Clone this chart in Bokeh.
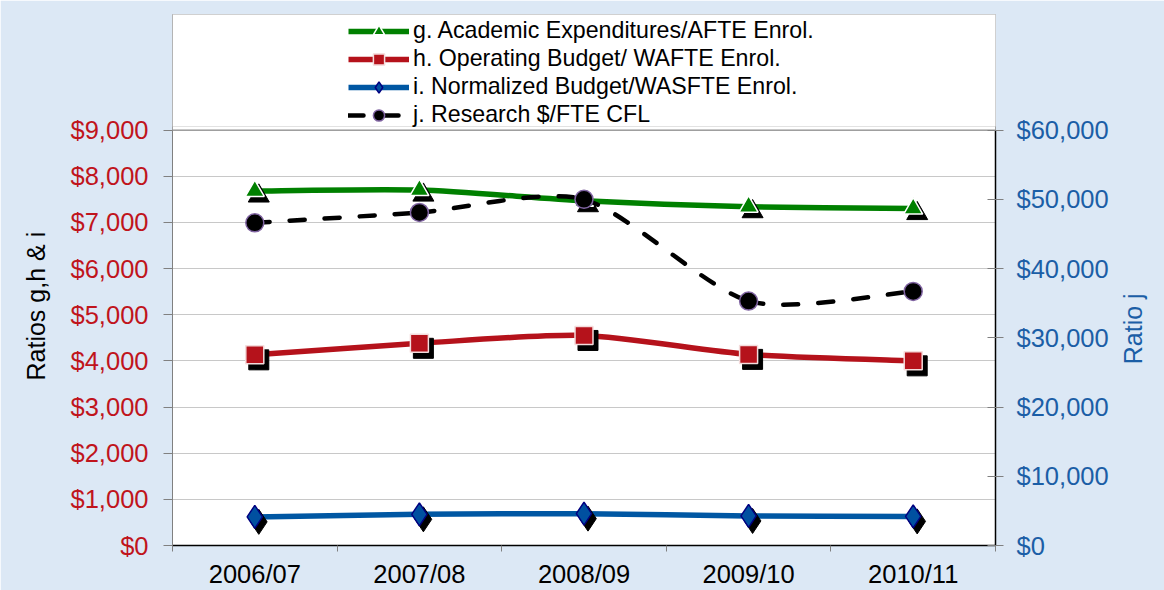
import math
from bokeh.plotting import figure
from bokeh.models import (Range1d, LinearAxis, FixedTicker, NumeralTickFormatter,
                          Legend, LegendItem, BoxAnnotation, ColumnDataSource, Span, Title)
from bokeh.transform import dodge
from bokeh.embed import file_html
from bokeh.resources import INLINE

# ---------------- data ----------------
categories = ["2006/07", "2007/08", "2008/09", "2009/10", "2010/11"]
academic_exp = [7680, 7700, 7470, 7340, 7300]        # g (left axis)
operating_budget = [4130, 4380, 4550, 4140, 4000]    # h (left axis)
normalized_budget = [620, 675, 690, 640, 630]        # i (left axis)
research_fte = [46600, 48100, 50000, 35300, 36700]   # j (right axis)

left_ticks = [0, 1000, 2000, 3000, 4000, 5000, 6000, 7000, 8000, 9000]
right_ticks = [0, 10000, 20000, 30000, 40000, 50000, 60000]

labels = ["g. Academic Expenditures/AFTE Enrol.",
          "h. Operating Budget/ WAFTE Enrol.",
          "i. Normalized Budget/WASFTE Enrol.",
          "j. Research $/FTE CFL"]
left_title = "Ratios g,h & i"
right_title = "Ratio j"

# ---------------- layout / styling ----------------
FONT = "Liberation Sans"
BG = "#DCE8F5"
RED_TXT = "#C0141C"
BLUE_TXT = "#1B5EA6"
W, H = 1164, 590
FRAME_L, FRAME_R = 172, 997          # plot area, px
FRAME_T, PLOT_T, FRAME_B = 14, 130, 547   # frame top (legend box top), value-area top, bottom
LEFT_TITLE_BOTTOM = 382              # px, where the left title text starts
RIGHT_TITLE_BOTTOM = 365             # px, where the right title text starts
n = len(categories)
xc = [k + 0.5 for k in range(n)]

stretch = (FRAME_B - FRAME_T) / (FRAME_B - PLOT_T)
y_top = left_ticks[-1] * stretch
yj_top = right_ticks[-1] * stretch

p = figure(width=W, height=H, output_backend="svg", toolbar_location=None,
           title=None,
           x_range=Range1d(0, n), y_range=Range1d(left_ticks[0], y_top),
           min_border_left=FRAME_L, min_border_right=W - FRAME_R,
           min_border_top=FRAME_T, min_border_bottom=H - FRAME_B)
p.extra_y_ranges = {"j": Range1d(right_ticks[0], yj_top)}
p.background_fill_color = "white"
p.border_fill_color = BG
p.outline_line_color = "#A0A0A0"
p.outline_line_width = 1

# x axis
xa = p.xaxis[0]
xa.ticker = FixedTicker(ticks=xc, minor_ticks=list(range(n + 1)))
xa.major_label_overrides = {x: c for x, c in zip(xc, categories)}
xa.major_tick_in = 0
xa.major_tick_out = 0
xa.minor_tick_in = 0
xa.minor_tick_out = 6
xa.minor_tick_line_color = "#808080"
xa.axis_line_color = "black"
xa.axis_line_width = 1.5
xa.major_label_standoff = 8
xa.major_label_text_font = FONT
xa.major_label_text_font_size = "25.5px"
xa.major_label_text_color = "black"

# left axis
ya = p.yaxis[0]
ya.ticker = FixedTicker(ticks=left_ticks)
ya.bounds = (left_ticks[0], left_ticks[-1])
ya.formatter = NumeralTickFormatter(format="$0,0")
ya.major_tick_in = 0
ya.major_tick_out = 9
ya.minor_tick_out = 0
ya.minor_tick_in = 0
ya.major_tick_line_color = "#808080"
ya.axis_line_color = "#808080"
ya.major_label_standoff = 15
ya.major_label_text_font = FONT
ya.major_label_text_font_size = "25.5px"
ya.major_label_text_color = RED_TXT

# left title (placed along the axis with an offset from the bottom)
lt = Title(text=left_title, align="left", offset=FRAME_B - LEFT_TITLE_BOTTOM,
           text_font=FONT, text_font_size="25px", text_font_style="normal",
           text_color="black", standoff=36)
p.add_layout(lt, "left")

# right axis
ra = LinearAxis(y_range_name="j", ticker=FixedTicker(ticks=right_ticks),
                formatter=NumeralTickFormatter(format="$0,0"),
                bounds=(right_ticks[0], right_ticks[-1]))
ra.major_tick_in = 8
ra.major_tick_out = 8
ra.minor_tick_in = 0
ra.minor_tick_out = 0
ra.major_tick_line_color = "#808080"
ra.axis_line_color = "black"
ra.axis_line_width = 1.5
ra.major_label_standoff = 13
ra.major_label_text_font = FONT
ra.major_label_text_font_size = "25.5px"
ra.major_label_text_color = BLUE_TXT
p.add_layout(ra, "right")

# right title: vertical text outside the right axis, at its reference height
rt_value = right_ticks[-1] * (FRAME_B - RIGHT_TITLE_BOTTOM) / (FRAME_B - PLOT_T)
rt = LinearAxis(y_range_name="j", ticker=FixedTicker(ticks=[rt_value]),
                major_label_overrides={rt_value: right_title},
                major_label_orientation=math.pi / 2)
rt.axis_line_color = None
rt.major_tick_line_color = None
rt.minor_tick_line_color = None
rt.major_tick_in = 0
rt.major_tick_out = 0
rt.minor_tick_in = 0
rt.minor_tick_out = 0
rt.major_label_standoff = 22
rt.major_label_text_font = FONT
rt.major_label_text_font_size = "25px"
rt.major_label_text_color = BLUE_TXT
p.add_layout(rt, "right")

p.ygrid.ticker = FixedTicker(ticks=left_ticks)
p.ygrid.grid_line_color = "#C8C8C8"
p.ygrid.grid_line_width = 1
p.xgrid.visible = False

# top border of the value area
p.add_layout(Span(location=left_ticks[-1], dimension="width",
                  line_color="#808080", line_width=1))

# legend frame (white box above the value area)
box = BoxAnnotation(left=0, right=FRAME_R - FRAME_L + 5,
                    bottom=FRAME_B - 128, top=FRAME_B - FRAME_T,
                    left_units="screen", right_units="screen",
                    top_units="screen", bottom_units="screen",
                    fill_color="white", fill_alpha=1.0,
                    line_color="#A0A0A0", line_width=1, level="underlay")
p.add_layout(box)

SMOOTH = 1 / 8


def smooth_source(ys):
    """Bezier segments through the data points (Excel-style smoothed line)."""
    d = dict(x0=[], y0=[], x1=[], y1=[], cx0=[], cy0=[], cx1=[], cy1=[])
    m = len(ys)
    for k in range(m - 1):
        a = max(k - 1, 0)
        b = min(k + 2, m - 1)
        d["x0"].append(xc[k]); d["y0"].append(ys[k])
        d["x1"].append(xc[k + 1]); d["y1"].append(ys[k + 1])
        d["cx0"].append(xc[k] + (xc[k + 1] - xc[a]) * SMOOTH)
        d["cy0"].append(ys[k] + (ys[k + 1] - ys[a]) * SMOOTH)
        d["cx1"].append(xc[k + 1] - (xc[b] - xc[k]) * SMOOTH)
        d["cy1"].append(ys[k + 1] - (ys[b] - ys[k]) * SMOOTH)
    return ColumnDataSource(d)


# shadow offset in data units (4px right, 5px down)
frame_w = FRAME_R - FRAME_L
frame_h = FRAME_B - FRAME_T
SDX = 4 * n / frame_w
SDY = -5 * y_top / frame_h

series = [
    dict(ys=academic_exp, color="#008000", marker="triangle", size=19,
         fill="#008000", outline="white"),
    dict(ys=operating_budget, color="#B5121B", marker="square", size=18,
         fill="#B5121B", outline="#F4DCDC"),
    dict(ys=normalized_budget, color="#0057A3", marker="diamond", size=23,
         fill="#0050A0", outline="#000080"),
]

items = []
for s, lab in zip(series, labels[:3]):
    src = ColumnDataSource(dict(x=xc, y=s["ys"]))
    lr = p.bezier(x0="x0", y0="y0", x1="x1", y1="y1", cx0="cx0", cy0="cy0",
                  cx1="cx1", cy1="cy1", source=smooth_source(s["ys"]),
                  line_color=s["color"], line_width=5.5)
    p.scatter(x=dodge("x", SDX), y=dodge("y", SDY), source=src, marker=s["marker"],
              size=s["size"] + 2, fill_color="black", line_color="black")
    mr = p.scatter(x="x", y="y", source=src, marker=s["marker"], size=s["size"],
                   fill_color=s["fill"], line_color=s["outline"], line_width=1.5)
    items.append(LegendItem(label=lab, renderers=[lr, mr]))

# series j on the right axis
srcj = ColumnDataSource(dict(x=xc, y=research_fte))
jl = p.bezier(x0="x0", y0="y0", x1="x1", y1="y1", cx0="cx0", cy0="cy0",
              cx1="cx1", cy1="cy1", source=smooth_source(research_fte),
              y_range_name="j", line_color="black", line_width=4.5,
              line_dash="15 20", line_cap="round")
jm = p.scatter(x="x", y="y", source=srcj, y_range_name="j", marker="circle", size=18,
               fill_color="black", line_color="#8064A2", line_width=1.5)
items.append(LegendItem(label=labels[3], renderers=[jl, jm]))

legend = Legend(items=items, location=(176, FRAME_B - 130.5),
                label_text_font=FONT, label_text_font_size="23.2px",
                label_text_color="black", glyph_width=61, glyph_height=28,
                label_height=28, label_standoff=4, spacing=0, padding=0, margin=0,
                border_line_alpha=0, background_fill_alpha=0)
p.add_layout(legend)

open("out.html", "w").write(file_html(p, INLINE))
